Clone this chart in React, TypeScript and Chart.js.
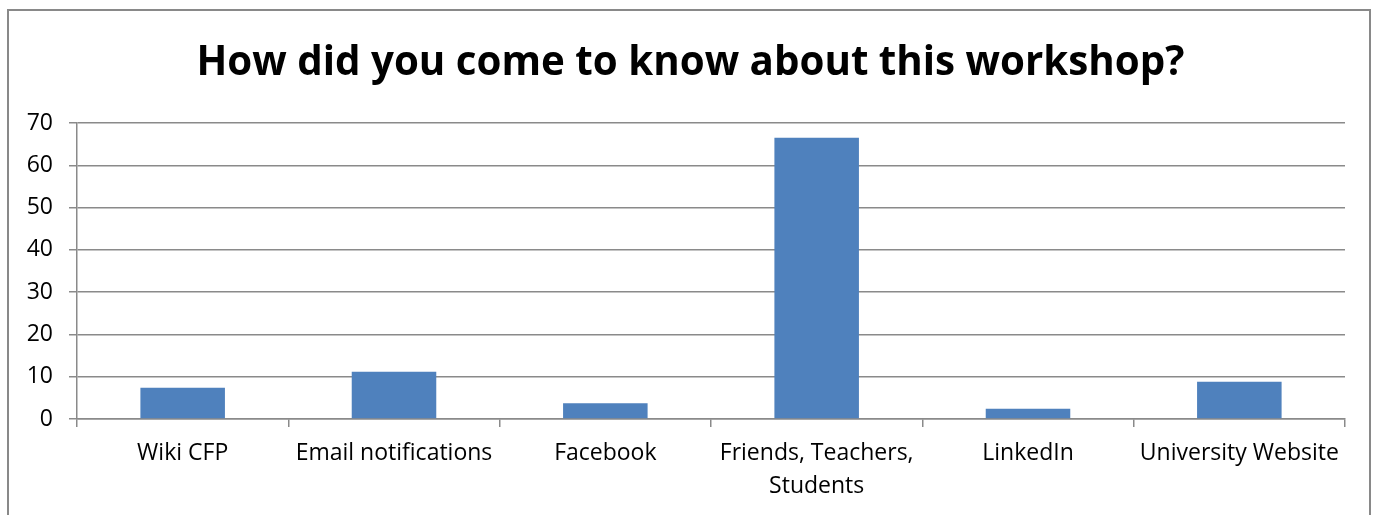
import React, { useEffect, useRef } from "react";
import { Chart, registerables } from "chart.js";

Chart.register(...registerables);

const TITLE = "How did you come to know about this workshop?";
const categories: (string | string[])[] = [
  "Wiki CFP",
  "Email notifications",
  "Facebook",
  ["Friends, Teachers,", "Students"],
  "LinkedIn",
  "University Website",
];
const values = [7.4, 11.2, 3.7, 66.5, 2.4, 8.8];
const yMin = 0;
const yMax = 70;
const yStep = 10;

const FONT = "'Open Sans', 'Noto Sans', sans-serif";

// Center the title over the full canvas rather than the padded area
const titleCenterPlugin = {
  id: "titleCenter",
  afterLayout(chart: any) {
    const tb = chart.titleBlock;
    if (tb) {
      tb.left = 0;
      tb.right = chart.width + 3;
    }
  },
};

export default function App() {
  const ref = useRef<HTMLCanvasElement | null>(null);

  useEffect(() => {
    if (!ref.current) return;
    const chart = new Chart(ref.current, {
      type: "bar",
      data: {
        labels: categories,
        datasets: [
          {
            data: values,
            backgroundColor: "#4F81BD",
            borderWidth: 0,
            barPercentage: 0.4,
            categoryPercentage: 1,
          },
        ],
      },
      plugins: [titleCenterPlugin],
      options: {
        animation: false,
        responsive: false,
        maintainAspectRatio: false,
        layout: { padding: { left: 0, right: 24, top: 0, bottom: 0 } },
        plugins: {
          legend: { display: false },
          tooltip: { enabled: false },
          title: {
            display: true,
            text: TITLE,
            color: "#000000",
            font: { family: FONT, size: 40.3, weight: "bold", lineHeight: 1.2 },
            padding: { top: 28, bottom: 35.6 },
          },
        },
        scales: {
          x: {
            offset: true,
            grid: {
              offset: true,
              drawOnChartArea: false,
              drawTicks: true,
              tickLength: 8,
              color: "#8a8a8a",
              lineWidth: 1.5,
            },
            border: { display: true, color: "#8a8a8a", width: 1.5 },
            ticks: {
              color: "#000000",
              padding: 10,
              maxRotation: 0,
              autoSkip: false,
              font: { family: FONT, size: 23, lineHeight: 1.42 },
            },
            afterFit: (scale: any) => {
              scale.height = 96;
            },
          },
          y: {
            min: yMin,
            max: yMax,
            grid: {
              color: "#8a8a8a",
              lineWidth: 1.5,
              drawTicks: true,
              tickLength: 8,
            },
            border: { display: true, color: "#8a8a8a", width: 1.5 },
            ticks: {
              stepSize: yStep,
              color: "#000000",
              padding: 16,
              font: { family: FONT, size: 23 },
            },
            afterFit: (scale: any) => {
              scale.width = 68;
            },
          },
        },
      },
    });
    return () => chart.destroy();
  }, []);

  return (
    <div
      style={{
        position: "absolute",
        left: 7,
        top: 9,
        width: 1364,
        height: 520,
        border: "2px solid #898989",
        boxSizing: "border-box",
        background: "#ffffff",
        overflow: "hidden",
      }}
    >
      <canvas ref={ref} width={1360} height={504} style={{ display: "block" }} />
    </div>
  );
}
